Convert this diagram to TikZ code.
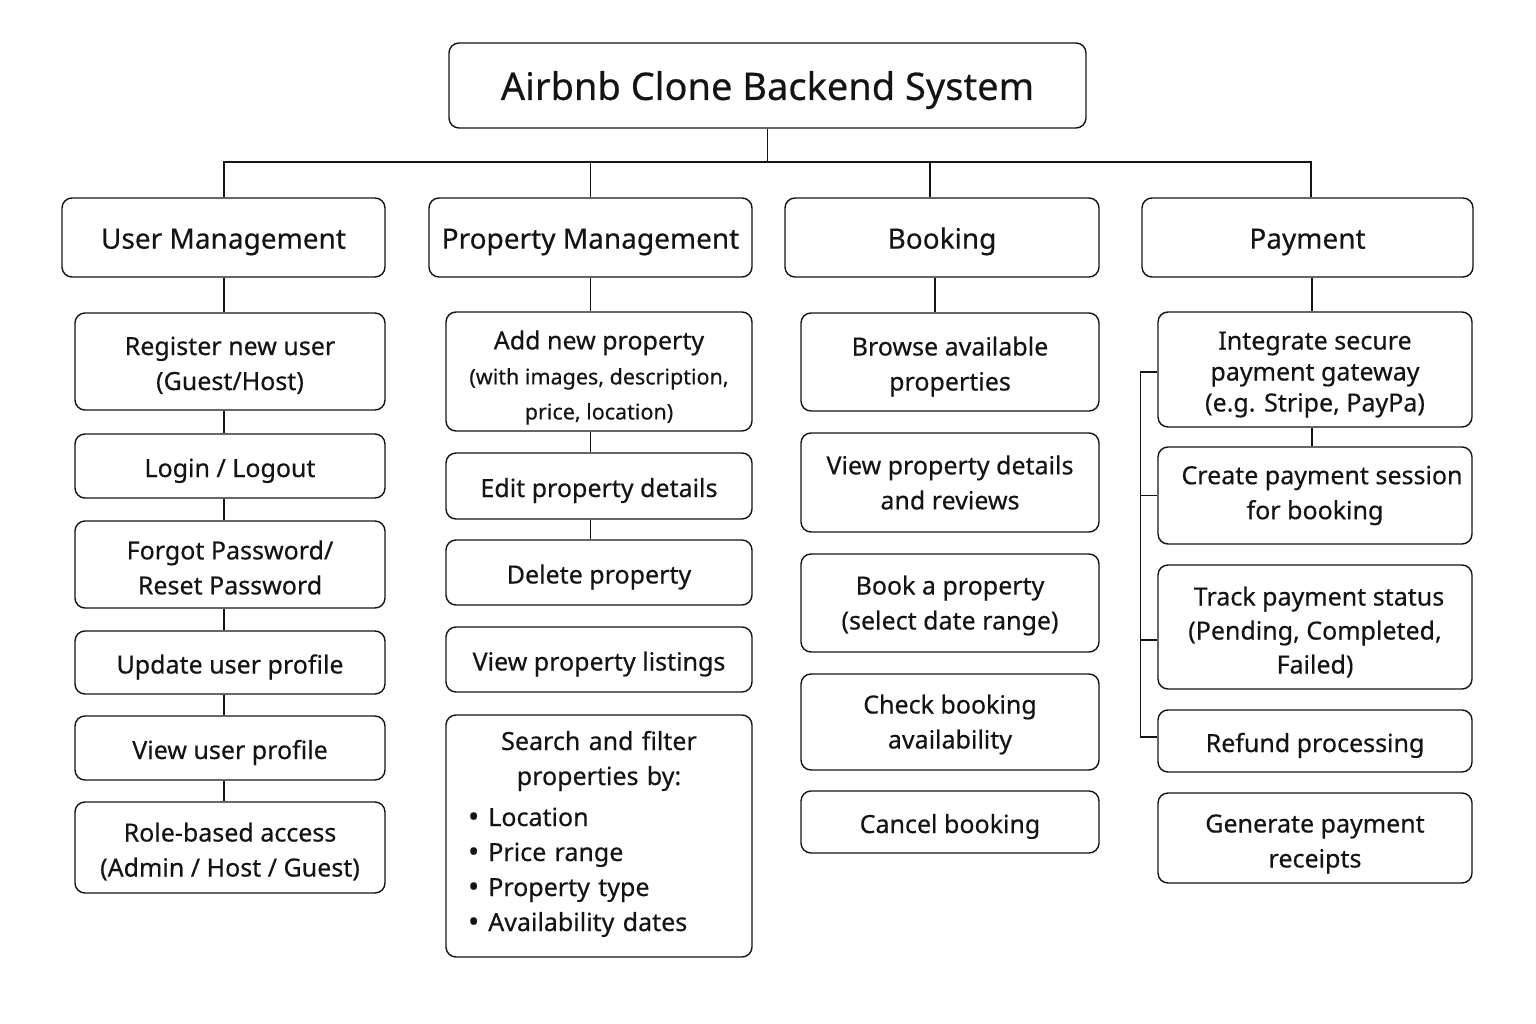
\documentclass[tikz,border=0pt]{standalone}
\usepackage{fontspec}
\setmainfont{Noto Sans}[UprightFeatures={FakeBold=0.35}]
\usetikzlibrary{positioning,calc}
\definecolor{ink}{HTML}{141414}
\newcommand{\smallline}{\fontsize{21.5}{26}\selectfont}
\newcommand{\bigdot}{\raisebox{-1pt}{\scalebox{1.2}{\textbullet}}}
\newcommand{\lowr}[1]{\rule{0pt}{#1}}
\tikzset{
  box/.style={draw=ink, line width=1.4pt, rounded corners=10pt, fill=white, align=center, text=ink, inner sep=2pt},
  titlebox/.style={box, font=\fontsize{38}{44}\selectfont, execute at begin node={\rule{0pt}{38pt}}},
  headbox/.style={box, font=\fontsize{28}{32}\selectfont, execute at begin node={\rule{0pt}{29pt}}},
  itembox/.style={box, font=\fontsize{25}{35}\selectfont, execute at begin node={\rule{0pt}{28pt}}},
  conn/.style={draw=ink, line width=1.4pt},
}
\begin{document}
\begin{tikzpicture}[x=1pt,y=-1pt]
\useasboundingbox[fill=white] (0,0) rectangle (1536,1024);
% title
\node[titlebox, minimum width=637, minimum height=85] (title) at (767.5,85.5) {Airbnb Clone Backend System};
% headings
\node[headbox, minimum width=323, minimum height=79] (um) at (223.5,237.5) {User Management};
\node[headbox, minimum width=323, minimum height=79] (pm) at (590.5,237.5) {Property Management};
\node[headbox, minimum width=314, minimum height=79] (bk) at (942,237.5) {Booking};
\node[headbox, minimum width=331, minimum height=79] (pay) at (1307.5,237.5) {Payment};
% user column
\node[itembox, minimum width=310, minimum height=97] (u1) at (230,361.5) {\lowr{26pt}Register new user\\(Guest/Host)};
\node[itembox, minimum width=310, minimum height=64] (u2) at (230,466) {Login / Logout};
\node[itembox, minimum width=310, minimum height=87] (u3) at (230,564.5) {\lowr{25pt}Forgot Password/\\Reset Password};
\node[itembox, minimum width=310, minimum height=63] (u4) at (230,662.5) {Update user profile};
\node[itembox, minimum width=310, minimum height=64] (u5) at (230,748) {View user profile};
\node[itembox, minimum width=310, minimum height=91] (u6) at (230,847.5) {\lowr{27pt}Role-based access\\(Admin / Host / Guest)};
% property column
\node[itembox, minimum width=306, minimum height=119] (p1) at (599,371.5) {\lowr{31pt}Add new property\\[0pt]\smallline (with images, description,\\\smallline price, location)};
\node[itembox, minimum width=306, minimum height=66] (p2) at (599,486) {Edit property details};
\node[itembox, minimum width=306, minimum height=65] (p3) at (599,572.5) {Delete property};
\node[itembox, minimum width=306, minimum height=65] (p4) at (599,659.5) {View property listings};
\node[itembox, minimum width=306, minimum height=242, text width=290, align=left, execute at begin node={}] (p5) at (599,836) {%
  {\centering Search and filter\\properties by:\par}\vspace{6pt}%
  \hspace*{14pt}\bigdot\hspace{9pt}Location\\
  \hspace*{14pt}\bigdot\hspace{9pt}Price range\\
  \hspace*{14pt}\bigdot\hspace{9pt}Property type\\
  \hspace*{14pt}\bigdot\hspace{9pt}Availability dates\par\vspace*{13pt}};
% booking column
\node[itembox, minimum width=298, minimum height=98] (b1) at (950,362) {\lowr{28pt}Browse available\\properties};
\node[itembox, minimum width=298, minimum height=99] (b2) at (950,482.5) {View property details\\and reviews};
\node[itembox, minimum width=298, minimum height=98] (b3) at (950,603) {\lowr{24pt}Book a property\\(select date range)};
\node[itembox, minimum width=298, minimum height=96] (b4) at (950,722) {\lowr{24pt}Check booking\\availability};
\node[itembox, minimum width=298, minimum height=62] (b5) at (950,822) {Cancel booking};
% payment column
\node[itembox, minimum width=314, minimum height=115, font=\fontsize{25}{31}\selectfont] (y1) at (1315,369.5) {\lowr{28pt}Integrate secure\\payment gateway\\(e.g. Stripe, PayPa)};
\node[itembox, minimum width=314, minimum height=97] (y2) at (1315,495.5) {\hspace*{14pt}Create payment session\\for booking};
\node[itembox, minimum width=314, minimum height=124, font=\fontsize{25}{34}\selectfont] (y3) at (1315,627) {\lowr{29pt}\hspace*{8pt}Track payment status\\(Pending, Completed,\\Failed)};
\node[itembox, minimum width=314, minimum height=62] (y4) at (1315,741) {Refund processing};
\node[itembox, minimum width=314, minimum height=90] (y5) at (1315,838) {\lowr{30pt}Generate payment\\receipts};
% tree connectors
\coordinate (bus) at (767,162);
\draw[conn] (title.south) -- (title.south |- bus);
\draw[conn] ([xshift=0.5pt]um.north) |- ([xshift=3.5pt]pay.north |- bus) -- ([xshift=3.5pt]pay.north);
\draw[conn] (pm.north) -- (pm.north |- bus);
\draw[conn] ([xshift=-12pt]bk.north) -- ([xshift=-12pt]bk.north |- bus);
% user chain
\draw[conn] ([xshift=0.5pt]um.south) -- ([xshift=0.5pt]um.south |- u1.north);
\foreach \a/\b in {u1/u2,u2/u3,u3/u4,u4/u5,u5/u6}
  \draw[conn] ([xshift=0.5pt]\a.south -| um.south) -- ([xshift=0.5pt]\b.north -| um.south);
% property chain
\draw[conn] (pm.south) -- (pm.south |- p1.north);
\draw[conn] (p1.south -| pm.south) -- (p2.north -| pm.south);
\draw[conn] (p2.south -| pm.south) -- (p3.north -| pm.south);
% booking
\draw[conn] ([xshift=-7pt]bk.south) -- ([xshift=-7pt]bk.south |- b1.north);
% payment
\draw[conn] ([xshift=4.5pt]pay.south) -- ([xshift=4.5pt]pay.south |- y1.north);
\draw[conn] ([xshift=4.5pt]y1.south -| pay.south) -- ([xshift=4.5pt]y2.north -| pay.south);
\draw[conn] ([yshift=-2.5pt]y1.west) -- ++(-17,0) |- ([yshift=4pt]y4.west);
\draw[conn] (y2.west) -- ++(-17,0);
\draw[conn] ([yshift=-13pt]y3.west) -- ++(-17,0);
\end{tikzpicture}
\end{document}
